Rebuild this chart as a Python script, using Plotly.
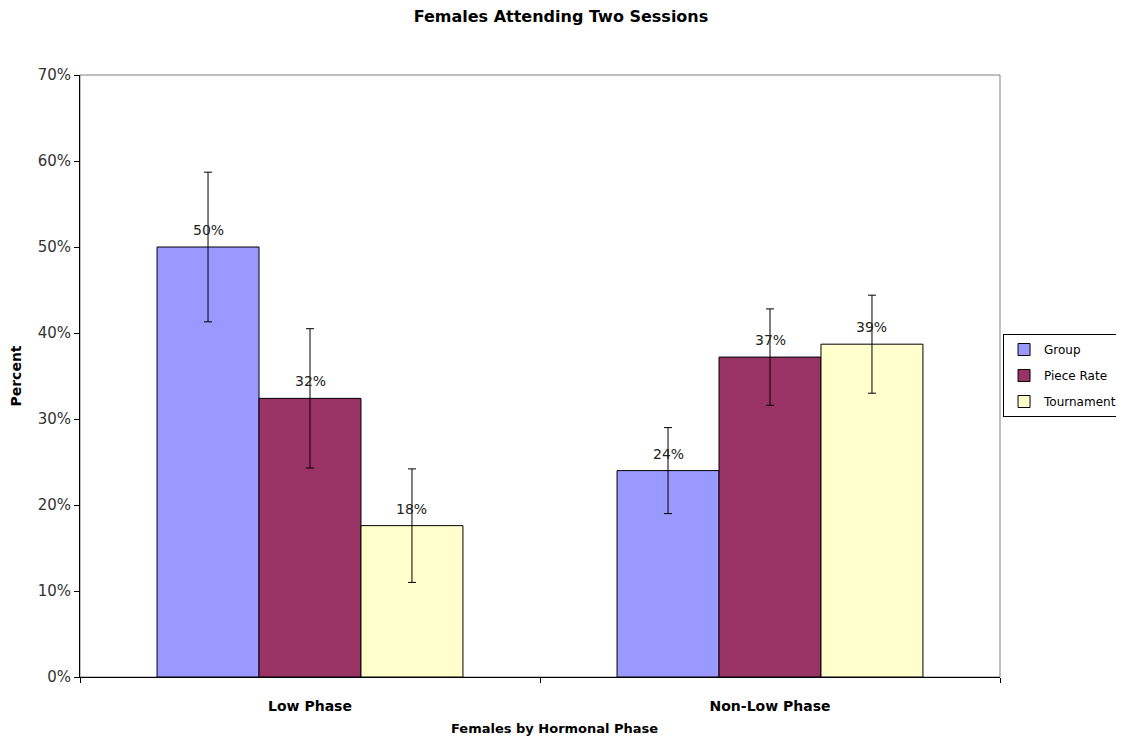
import plotly.graph_objects as go

categories = ["Low Phase", "Non-Low Phase"]
series_names = ["Group", "Piece Rate", "Tournament"]
group_vals = [0.500, 0.240]
piece_vals = [0.324, 0.372]
tourn_vals = [0.176, 0.387]
group_err = [0.087, 0.050]
piece_err = [0.081, 0.056]
tourn_err = [0.066, 0.057]
colors = ["#9999FF", "#993366", "#FFFFCC"]
y_ticks = [0, 0.1, 0.2, 0.3, 0.4, 0.5, 0.6, 0.7]

FONT = "DejaVu Sans"

# page body has an 8px margin; compensate so the plot area lands where it should
W, H = 1116, 734
ML, MR, MT, MB = 72, 124, 67, 65
plot_w = W - ML - MR
plot_h = H - MT - MB
bar_px = plot_w / len(categories) * (1 - 0.335) / len(series_names)

fig = go.Figure()
all_vals = [group_vals, piece_vals, tourn_vals]
all_errs = [group_err, piece_err, tourn_err]
annotations = []
for i, (name, vals, errs, col) in enumerate(zip(series_names, all_vals, all_errs, colors)):
    fig.add_trace(go.Bar(
        name=name, x=categories, y=vals, legendgroup=name,
        marker=dict(color=col, line=dict(color="#000000", width=1)),
        error_y=dict(type="data", array=errs, visible=True, color="#000000",
                     thickness=1, width=4),
        cliponaxis=False,
    ))
    for c, v in zip(categories, vals):
        annotations.append(dict(
            x=c, y=v, xref="x", yref="y", text=f"{v*100:.0f}%", showarrow=False,
            xanchor="center", yanchor="bottom", xshift=(i - 1) * bar_px, yshift=7,
            font=dict(family=FONT, size=14, color="#222222"),
        ))

annotations.append(dict(
    text="<b>Females by Hormonal Phase</b>", xref="paper", yref="paper",
    x=0.516, y=-52 / plot_h, xanchor="center", yanchor="middle", showarrow=False,
    font=dict(family=FONT, size=13, color="#000000"),
))

fig.update_layout(
    width=W, height=H,
    paper_bgcolor="white", plot_bgcolor="white",
    margin=dict(l=ML, r=MR, t=MT, b=MB, autoexpand=False),
    barmode="group", bargap=0.335, bargroupgap=0,
    title=dict(text="<b>Females Attending Two Sessions</b>", x=0.4955, xanchor="center",
               xref="container", yref="container", y=1 - 8 / H, yanchor="middle",
               font=dict(family=FONT, size=16, color="#000000")),
    font=dict(family=FONT, size=13, color="#000000"),
    legend=dict(x=1.0033, y=0.5008, xanchor="left", yanchor="middle",
                bordercolor="#000000", borderwidth=1, bgcolor="white",
                font=dict(family=FONT, size=12, color="#000000"),
                tracegroupgap=7, itemwidth=30),
    showlegend=True,
    xaxis=dict(
        tickson="boundaries", ticks="outside", ticklen=5, tickcolor="#000000",
        showline=True, linecolor="#000000", linewidth=1,
        tickfont=dict(family=FONT, size=14, color="#000000"),
        ticklabelstandoff=16,
        showgrid=False,
    ),
    yaxis=dict(
        range=[0, 0.7], tickvals=y_ticks, tickformat=".0%",
        ticks="outside", ticklen=5, tickcolor="#000000",
        showline=True, linecolor="#000000", linewidth=1,
        showgrid=False, zeroline=False,
        tickfont=dict(family=FONT, size=15, color="#333333"),
        title=dict(text="<b>Percent</b>", standoff=12,
                   font=dict(family=FONT, size=14, color="#000000")),
    ),
    annotations=annotations,
    shapes=[dict(type="rect", xref="paper", yref="paper", x0=0, x1=1, y0=0, y1=1,
                 line=dict(color="#808080", width=1), layer="below")],
)
fig.update_xaxes(tickprefix="<b>", ticksuffix="</b>")

fig.write_html("out.html")
